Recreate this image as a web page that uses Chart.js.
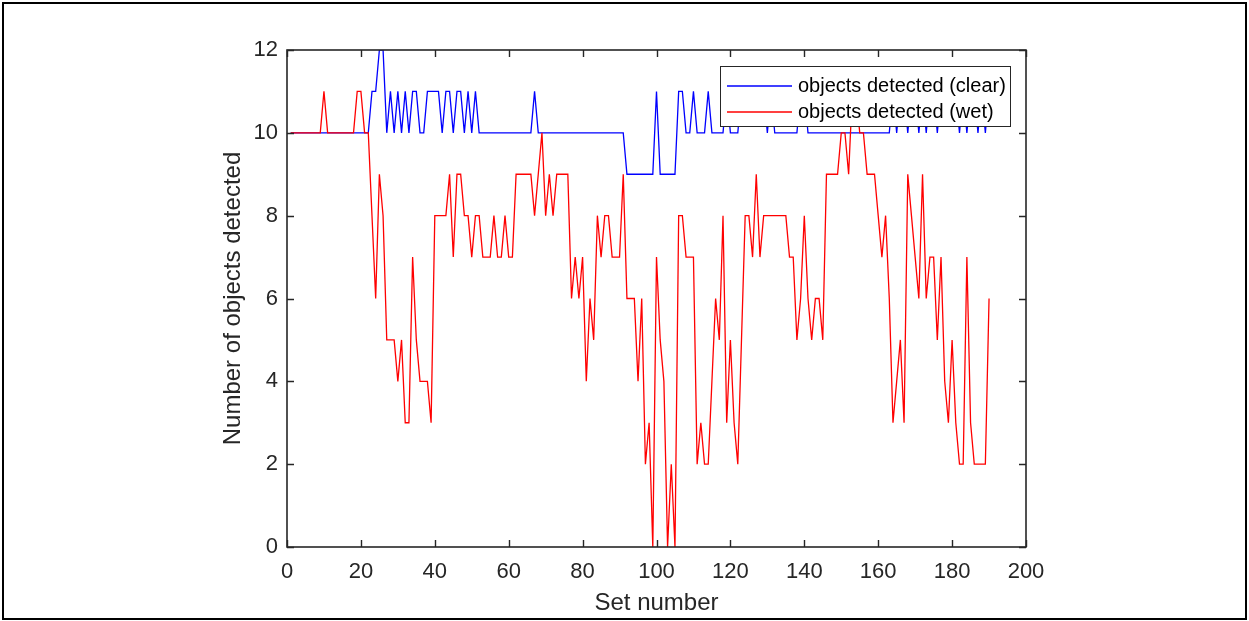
<!DOCTYPE html>
<html>
<head>
<meta charset="utf-8">
<script src="https://cdn.jsdelivr.net/npm/chart.js@4"></script>
<style>
  html, body { margin: 0; padding: 0; background: #fff; }
  canvas { display: block; }
</style>
</head>
<body>
<canvas id="c" width="1249" height="621"></canvas>
<script>
// Objects detected per set, clear vs wet conditions
const seriesLabels = ['objects detected (clear)', 'objects detected (wet)'];
const seriesColors = ['#0000ff', '#ff0000'];

const clearCounts = [
  10,10,10,10,10,10,10,10,10,10, 10,10,10,10,10,10,10,10,10,10,
  10,10,11,11,12,12,10,11,10,11, 10,11,10,11,11,10,10,11,11,11,
  11,10,11,11,10,11,11,10,11,10, 11,10,10,10,10,10,10,10,10,10,
  10,10,10,10,10,10,11,10,10,10, 10,10,10,10,10,10,10,10,10,10,
  10,10,10,10,10,10,10,10,10,10, 10,9,9,9,9,9,9,9,9,11,
  9,9,9,9,9,11,11,10,10,11, 10,10,10,11,10,10,10,10,11,10,
  10,10,11,11,11,11,11,11,11,10, 11,10,10,10,10,10,10,10,11,11,
  10,10,10,10,10,10,10,10,10,10, 10,10,10,10,10,10,10,10,10,10,
  10,10,10,11,10,11,11,10,11,11, 10,11,10,11,11,10,11,11,11,11,
  11,10,11,10,11,11,10,11,10,11
];

const wetCounts = [
  10,10,10,10,10,10,10,10,10,11, 10,10,10,10,10,10,10,10,11,11,
  10,10,8,6,9,8,5,5,5,4, 5,3,3,7,5,4,4,4,3,8,
  8,8,8,9,7,9,9,8,8,7, 8,8,7,7,7,8,7,7,8,7,
  7,9,9,9,9,9,8,9,10,8, 9,8,9,9,9,9,6,7,6,7,
  4,6,5,8,7,8,8,7,7,7, 9,6,6,6,4,6,2,3,0,7,
  5,4,0,2,0,8,8,7,7,7, 2,3,2,2,4,6,5,8,3,5,
  3,2,5,8,8,7,9,7,8,8, 8,8,8,8,8,7,7,5,6,8,
  6,5,6,6,5,9,9,9,9,10, 10,9,11,11,10,10,9,9,9,8,
  7,8,6,3,4,5,3,9,8,7, 6,9,6,7,7,5,7,4,3,5,
  3,2,2,7,3,2,2,2,2,6
];

const setNumbers = clearCounts.map((_, i) => i + 1);
const xTicks = [0, 20, 40, 60, 80, 100, 120, 140, 160, 180, 200];
const yTicks = [0, 2, 4, 6, 8, 10, 12];
const xTitle = 'Set number';
const yTitle = 'Number of objects detected';

const AXIS = '#262626';
const FONT = '"Liberation Sans", Arial, Helvetica, sans-serif';

const toPoints = vals => vals.map((v, i) => ({ x: setNumbers[i], y: v }));

// Boxed axes with inward tick marks, axis titles, legend and page frame
const decor = {
  id: 'decor',
  afterDraw(chart) {
    const ctx = chart.ctx;
    const a = chart.chartArea;
    const xs = chart.scales.x, ys = chart.scales.y;
    const tl = 7;
    ctx.save();
    ctx.strokeStyle = AXIS;
    ctx.lineWidth = 1.6;
    ctx.strokeRect(a.left, a.top, a.right - a.left, a.bottom - a.top);
    ctx.lineWidth = 1.4;
    ctx.beginPath();
    xTicks.forEach(t => {
      const px = Math.round(xs.getPixelForValue(t)) + 0.5;
      ctx.moveTo(px, a.bottom); ctx.lineTo(px, a.bottom - tl);
      ctx.moveTo(px, a.top); ctx.lineTo(px, a.top + tl);
    });
    yTicks.forEach(t => {
      const py = Math.round(ys.getPixelForValue(t)) + 0.5;
      ctx.moveTo(a.left, py); ctx.lineTo(a.left + tl, py);
      ctx.moveTo(a.right, py); ctx.lineTo(a.right - tl, py);
    });
    ctx.stroke();

    // axis titles
    ctx.fillStyle = AXIS;
    ctx.font = '24px ' + FONT;
    ctx.textAlign = 'center';
    ctx.textBaseline = 'middle';
    ctx.fillText(xTitle, (a.left + a.right) / 2, 603);
    ctx.save();
    ctx.translate(233, (a.top + a.bottom) / 2);
    ctx.rotate(-Math.PI / 2);
    ctx.fillText(yTitle, 0, 0);
    ctx.restore();

    // legend
    const lx = 720.5, ly = 66.5, lw = 290, lh = 60;
    ctx.fillStyle = '#fff';
    ctx.fillRect(lx, ly, lw, lh);
    ctx.strokeStyle = AXIS;
    ctx.lineWidth = 1;
    ctx.strokeRect(lx, ly, lw, lh);
    ctx.font = '20px ' + FONT;
    ctx.textAlign = 'left';
    ctx.textBaseline = 'middle';
    const rows = [86, 112];
    seriesLabels.forEach((lab, i) => {
      ctx.strokeStyle = seriesColors[i];
      ctx.lineWidth = 1.3;
      ctx.beginPath();
      ctx.moveTo(727, rows[i]); ctx.lineTo(792, rows[i]);
      ctx.stroke();
      ctx.fillStyle = '#000';
      ctx.fillText(lab, 798, rows[i]);
    });

    // page frame
    ctx.strokeStyle = '#000';
    ctx.lineWidth = 2;
    ctx.strokeRect(3, 3, 1243, 616);
    ctx.restore();
  }
};

new Chart(document.getElementById('c'), {
  type: 'line',
  data: {
    datasets: [
      { label: seriesLabels[0], data: toPoints(clearCounts), borderColor: seriesColors[0],
        borderWidth: 1.3, pointRadius: 0, tension: 0, fill: false, order: 1 },
      { label: seriesLabels[1], data: toPoints(wetCounts), borderColor: seriesColors[1],
        borderWidth: 1.3, pointRadius: 0, tension: 0, fill: false, order: 0 }
    ]
  },
  options: {
    responsive: false,
    animation: false,
    events: [],
    layout: { padding: { top: 50, right: 223, bottom: 0, left: 0 } },
    plugins: { legend: { display: false }, tooltip: { enabled: false } },
    scales: {
      x: {
        type: 'linear', min: 0, max: 200,
        afterFit: s => { s.height = 74; },
        afterBuildTicks: s => { s.ticks = xTicks.map(v => ({ value: v })); },
        grid: { display: false, drawTicks: false },
        border: { display: false },
        ticks: { color: AXIS, font: { family: FONT, size: 22 }, padding: 12, maxRotation: 0 }
      },
      y: {
        type: 'linear', min: 0, max: 12,
        afterFit: s => { s.width = 287; },
        afterBuildTicks: s => { s.ticks = yTicks.map(v => ({ value: v })); },
        grid: { display: false, drawTicks: false },
        border: { display: false },
        ticks: { color: AXIS, font: { family: FONT, size: 22 }, padding: 9 }
      }
    }
  },
  plugins: [decor]
});
</script>
</body>
</html>
